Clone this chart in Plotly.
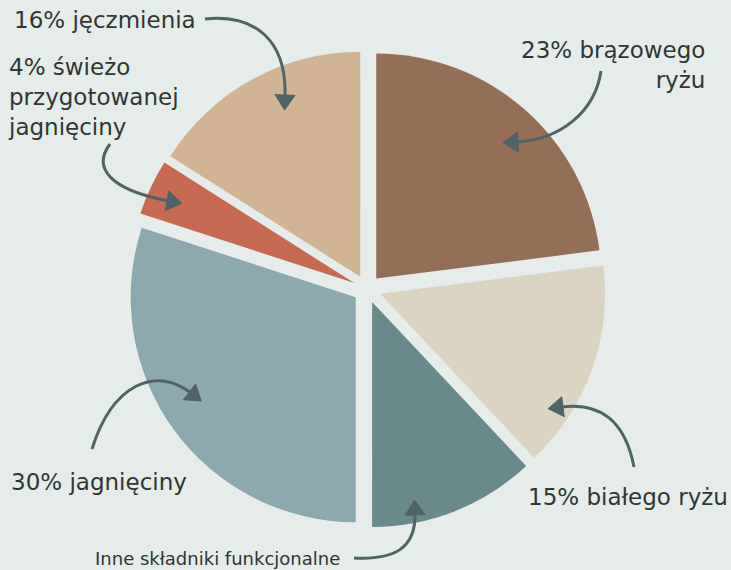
import plotly.graph_objects as go

# ---- data ----
categories = ["brązowy ryż", "biały ryż", "inne składniki funkcjonalne",
              "jagnięcina", "świeżo przygotowana jagnięcina", "jęczmień"]
values = [23, 15, 12, 30, 4, 16]
slice_colors = ["#946F56", "#DCD4C3", "#688A8A", "#8BA9AE", "#C66B52", "#D1B494"]

label_texts = ["23% brązowego<br>ryżu", "15% białego ryżu", "Inne składniki funkcjonalne",
               "30% jagnięciny", "4% świeżo<br>przygotowanej<br>jagnięciny", "16% jęczmienia"]

W, H = 731, 570
BG = "#E5ECE9"
TXT = "#2F3634"
ARR = "#4F6466"

cx, cy, r, pull = 367, 289, 225, 0.062
ext = r * (1 + pull)

fig = go.Figure(go.Pie(
    labels=categories, values=values, sort=False, direction="clockwise", rotation=0,
    marker=dict(colors=slice_colors, line=dict(width=0)),
    pull=[pull] * len(values), textinfo="none", hoverinfo="label+percent",
    domain=dict(x=[(cx - ext) / W, (cx + ext) / W],
                y=[(H - cy - ext) / H, (H - cy + ext) / H]),
))

def px(x):
    return x / W

def py(y):
    return 1 - y / H

shapes = []

def arrow(p0, c1, c2, p3, L=13, hw=10):
    path = "M{},{} C{},{} {},{} {},{}".format(px(p0[0]), py(p0[1]), px(c1[0]), py(c1[1]),
                                            px(c2[0]), py(c2[1]), px(p3[0]), py(p3[1]))
    shapes.append(dict(type="path", xref="paper", yref="paper", path=path,
                       line=dict(color=ARR, width=3), layer="above"))
    dx, dy = p3[0] - c2[0], p3[1] - c2[1]
    n = (dx * dx + dy * dy) ** 0.5
    ux, uy = dx / n, dy / n
    tip = (p3[0] + ux * L, p3[1] + uy * L)
    b = (p3[0] - ux * 2, p3[1] - uy * 2)
    a1 = (b[0] - uy * hw, b[1] + ux * hw)
    a2 = (b[0] + uy * hw, b[1] - ux * hw)
    tri = "M{},{} L{},{} L{},{} Z".format(px(tip[0]), py(tip[1]), px(a1[0]), py(a1[1]),
                                         px(a2[0]), py(a2[1]))
    shapes.append(dict(type="path", xref="paper", yref="paper", path=tri,
                       fillcolor=ARR, line=dict(color=ARR, width=1), layer="above"))

arrow((205, 19), (255, 14), (287, 40), (285, 97))      # jęczmień
arrow((110, 144), (92, 168), (110, 190), (169, 201))   # świeżo
arrow((601, 71), (595, 112), (560, 140), (516, 142))   # brązowy
arrow((92, 449), (112, 385), (155, 365), (191, 393))   # jagnięcina
arrow((634, 467), (625, 420), (600, 402), (561, 407))  # biały
arrow((354, 558), (395, 560), (416, 548), (415, 513))  # inne

FONT = "DejaVu Sans"
annots = [
    dict(text=label_texts[0], x=px(706), y=py(36), xanchor="right", yanchor="top", align="right", size=23),
    dict(text=label_texts[1], x=px(729), y=py(497), xanchor="right", yanchor="middle", align="right", size=23),
    dict(text=label_texts[2], x=px(94), y=py(558), xanchor="left", yanchor="middle", align="left", size=18),
    dict(text=label_texts[3], x=px(10), y=py(482), xanchor="left", yanchor="middle", align="left", size=23),
    dict(text=label_texts[4], x=px(7), y=py(53), xanchor="left", yanchor="top", align="left", size=23),
    dict(text=label_texts[5], x=px(13), y=py(20), xanchor="left", yanchor="middle", align="left", size=23),
]

annotations = []
for a in annots:
    annotations.append(dict(text=a["text"], x=a["x"], y=a["y"], xref="paper", yref="paper",
                            xanchor=a["xanchor"], yanchor=a["yanchor"], align=a["align"],
                            showarrow=False, borderpad=0,
                            font=dict(family=FONT, size=a["size"], color=TXT)))

fig.update_layout(
    width=W, height=H, margin=dict(l=0, r=0, t=0, b=0),
    paper_bgcolor=BG, plot_bgcolor=BG, showlegend=False,
    shapes=shapes, annotations=annotations,
)

fig.write_html("out.html", config={"displayModeBar": False},
               post_script="document.body.style.margin='0';document.body.style.background='" + BG + "';")
